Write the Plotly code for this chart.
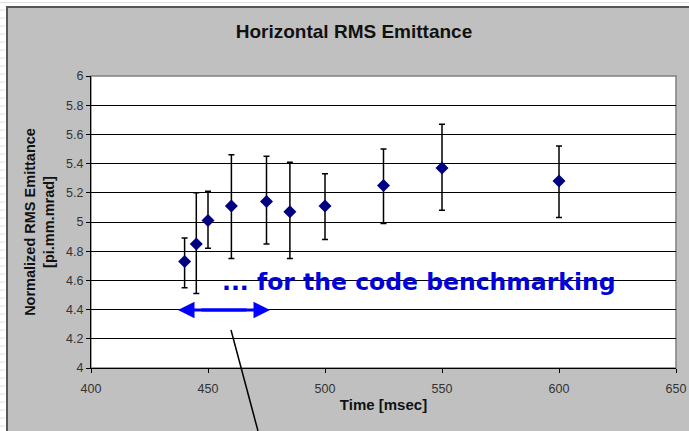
import plotly.graph_objects as go

time_ms = [440, 445, 450, 460, 475, 485, 500, 525, 550, 600]
emittance = [4.73, 4.85, 5.01, 5.11, 5.14, 5.07, 5.11, 5.25, 5.37, 5.28]
err_upper = [4.89, 5.20, 5.21, 5.46, 5.45, 5.41, 5.33, 5.50, 5.67, 5.52]
err_lower = [4.55, 4.51, 4.82, 4.75, 4.85, 4.75, 4.88, 4.99, 5.08, 5.03]

plus = [u - v for u, v in zip(err_upper, emittance)]
minus = [v - l for v, l in zip(emittance, err_lower)]

W, H = 689, 431
L, R, T, B = 91, 13, 76, 63
pw, ph = W - L - R, H - T - B

def px(x):
    return (x - L) / pw

def py(y):
    return (H - B - y) / ph

FONT = "Liberation Sans, Arial, sans-serif"

fig = go.Figure()
fig.add_trace(go.Scatter(
    x=time_ms, y=emittance, mode="markers",
    marker=dict(symbol="diamond", size=10, color="#000080"),
    error_y=dict(type="data", symmetric=False, array=plus, arrayminus=minus,
                 color="black", thickness=1.5, width=3),
    showlegend=False,
))

shapes = [
    # outer gray chart area
    dict(type="rect", xref="paper", yref="paper", x0=px(6), x1=px(W + 10), y0=py(H + 10), y1=py(6),
         fillcolor="#c0c0c0", line=dict(width=0, color="rgba(0,0,0,0)"), layer="below"),
    dict(type="line", xref="paper", yref="paper", x0=px(7), x1=px(7), y0=py(H), y1=py(6),
         line=dict(color="#555555", width=2), layer="below"),
    dict(type="line", xref="paper", yref="paper", x0=px(6), x1=px(W + 10), y0=py(7), y1=py(7),
         line=dict(color="#555555", width=2), layer="below"),
    # plot area white
    dict(type="rect", xref="paper", yref="paper", x0=0, x1=1, y0=0, y1=1,
         fillcolor="white", line=dict(color="#808080", width=1.5), layer="below"),
    # white box behind the note (interrupts gridline)
    dict(type="rect", xref="paper", yref="paper", x0=px(208), x1=px(628), y0=py(293), y1=py(271),
         fillcolor="white", line=dict(width=0, color="rgba(0,0,0,0)"), layer="between"),
    # annotation pointer line
    dict(type="line", xref="paper", yref="paper", x0=px(231), y0=py(330), x1=px(258), y1=py(431),
         line=dict(color="black", width=1.5)),
    dict(type="line", xref="paper", yref="paper", x0=px(0), x1=px(W), y0=py(2.5), y1=py(2.5),
         line=dict(color="#e0e0e0", width=1), layer="below"),
]
for i in range(53):
    shapes.append(dict(type="line", xref="paper", yref="paper", x0=px(0), x1=px(5),
                       y0=py(10 + i * 8), y1=py(10 + i * 8), line=dict(color="#dcdcdc", width=1),
                       layer="below"))

annotations = [
    dict(text="... for the code benchmarking", xref="paper", yref="paper",
         x=px(418.5), y=py(282), xanchor="center", yanchor="middle", showarrow=False,
         font=dict(family="DejaVu Sans", size=23.5, color="#0000dd", weight="bold")),
    dict(xref="paper", yref="paper", x=px(270), y=py(310), ax=-70, ay=0,
         showarrow=True, arrowhead=2, arrowsize=1.1,
         arrowwidth=3, arrowcolor="#0000ff", text=""),
    dict(xref="paper", yref="paper", x=px(178), y=py(310), ax=70, ay=0,
         showarrow=True, arrowhead=2, arrowsize=1.1,
         arrowwidth=3, arrowcolor="#0000ff", text=""),
]

fig.update_layout(
    width=W, height=H,
    margin=dict(l=L, r=R, t=T, b=B),
    paper_bgcolor="white", plot_bgcolor="rgba(0,0,0,0)",
    font=dict(family=FONT, color="#222222"),
    title=dict(text="<b>Horizontal RMS Emittance</b>", x=354 / W, xanchor="center", xref="container",
               y=1 - 31 / H, yanchor="middle", yref="container", font=dict(size=19, color="#111111")),
    shapes=shapes, annotations=annotations,
    xaxis=dict(range=[400, 650], dtick=50, ticks="outside", ticklen=4, tickcolor="black",
               showline=True, linecolor="black", linewidth=1, showgrid=False, zeroline=False,
               automargin=False, ticklabelstandoff=5,
               tickfont=dict(size=12.5, color="#333333"),
               title=dict(text="<b>Time [msec]</b>", font=dict(size=15, color="#111111"), standoff=4)),
    yaxis=dict(range=[4, 6], dtick=0.2, ticks="outside", ticklen=4, tickcolor="black",
               showline=True, linecolor="black", linewidth=1, showgrid=True, gridcolor="black",
               gridwidth=1, zeroline=False, tickformat="~g", automargin=False,
               tickfont=dict(size=12.5, color="#333333"),
               title=dict(text="<b>Normalized RMS Emittance<br>[pi.mm.mrad]</b>",
                          font=dict(size=14.5, color="#111111"), standoff=8)),
)

fig.write_html(
    "out.html",
    config={"displayModeBar": False},
    post_script="document.documentElement.style.overflow='hidden';document.body.style.overflow='hidden';document.body.style.margin='0';",
)
